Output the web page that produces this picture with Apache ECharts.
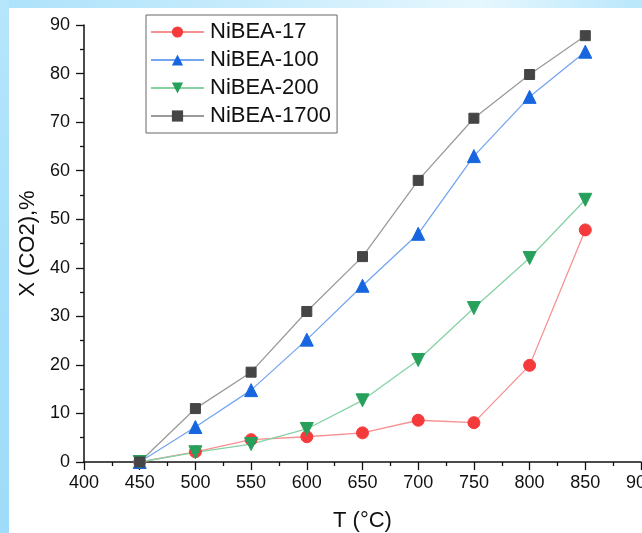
<!DOCTYPE html>
<html><head><meta charset="utf-8">
<script src="https://cdn.jsdelivr.net/npm/echarts@6/dist/echarts.min.js"></script>
<style>
html,body{margin:0;padding:0;width:642px;height:533px;overflow:hidden;}
body{background:linear-gradient(90deg,#ade2fb 0%,#c8ecfc 40%,#e6f7fe 75%,#b9e7fb 100%);position:relative;}
#side{position:absolute;left:0;top:0;width:9px;height:533px;background:linear-gradient(180deg,#b6e6fc 0%,#a6dffa 50%,#9fdcf9 100%);}
#panel{position:absolute;left:9px;top:8px;width:633px;height:525px;background:#fff;}
#chart{position:absolute;left:0;top:0;width:642px;height:533px;}
</style></head>
<body><div id="side"></div><div id="panel"></div><div id="chart"></div>
<script>
const temps = [450, 500, 550, 600, 650, 700, 750, 800, 850];
const seriesNames = ['NiBEA-17', 'NiBEA-100', 'NiBEA-200', 'NiBEA-1700'];
const nibea17 = [0, 2.1, 4.6, 5.2, 6.0, 8.6, 8.1, 19.9, 47.8];
const nibea100 = [0, 7.2, 14.8, 25.2, 36.3, 47.0, 63.0, 75.2, 84.5];
const nibea200 = [0, 2.0, 3.7, 6.8, 12.7, 21.0, 31.7, 42.0, 54.0];
const nibea1700 = [0, 11.0, 18.5, 31.0, 42.3, 58.0, 70.8, 79.8, 87.8];
const xTicks = [400, 450, 500, 550, 600, 650, 700, 750, 800, 850, 900];
const yTicks = [0, 10, 20, 30, 40, 50, 60, 70, 80, 90];

const pair = arr => temps.map((t, i) => [t, arr[i]]);
const font = 'Liberation Sans, Arial, sans-serif';
const chart = echarts.init(document.getElementById('chart'), null, {renderer: 'canvas'});
function mk(name, data, symbol, size, mcol, lcol, rot) {
  return {name, type: 'line', data: pair(data), symbol, symbolSize: size, symbolRotate: rot || 0,
    itemStyle: {color: mcol, borderColor: mcol}, lineStyle: {color: lcol, width: 1.3},
    emphasis: {disabled: true}, z: 3};
}
const tickStyle = {color: '#111', width: 1.3};
chart.setOption({
  animation: false,
  backgroundColor: 'transparent',
  grid: {left: 84, right: 1, top: 25, bottom: 71, containLabel: false, outerBoundsMode: 'none'},
  legend: {
    left: 146, top: 15, orient: 'vertical', itemGap: 6, itemWidth: 53, itemHeight: 14,
    padding: [6, 6, 6, 4], borderColor: '#666', borderWidth: 1, backgroundColor: '#fff',
    textStyle: {fontFamily: font, fontSize: 22, color: '#111', padding: [0, 0, 0, 1]},
    data: seriesNames
  },
  xAxis: {
    type: 'value', min: xTicks[0], max: xTicks[xTicks.length - 1], interval: 50,
    name: 'T (°C)', nameLocation: 'middle', nameGap: 48,
    nameTextStyle: {fontFamily: font, fontSize: 22, color: '#111'},
    axisLine: {show: true, onZero: false, lineStyle: {color: '#111', width: 1.5}},
    axisTick: {show: true, inside: false, length: 8, lineStyle: tickStyle},
    minorTick: {show: true, splitNumber: 2, length: 4, lineStyle: tickStyle},
    axisLabel: {fontFamily: font, fontSize: 18, color: '#111', margin: 12, showMaxLabel: true},
    splitLine: {show: false}
  },
  yAxis: {
    type: 'value', min: yTicks[0], max: yTicks[yTicks.length - 1], interval: 10,
    name: 'X (CO2),%', nameLocation: 'middle', nameGap: 37, nameRotate: 90,
    nameTextStyle: {fontFamily: font, fontSize: 22, color: '#111'},
    axisLine: {show: true, onZero: false, lineStyle: {color: '#111', width: 1.5}},
    axisTick: {show: true, inside: false, length: 8, lineStyle: tickStyle},
    minorTick: {show: true, splitNumber: 2, length: 4, lineStyle: tickStyle},
    axisLabel: {fontFamily: font, fontSize: 18, color: '#111', margin: 14},
    splitLine: {show: false}
  },
  series: [
    mk(seriesNames[0], nibea17, 'circle', 12, '#f43a3a', '#f79090'),
    mk(seriesNames[1], nibea100, 'triangle', 13, '#1766e0', '#74a6ef'),
    mk(seriesNames[2], nibea200, 'triangle', 13, '#27a05c', '#86d2a4', 180),
    mk(seriesNames[3], nibea1700, 'rect', 10, '#454545', '#9a9a9a')
  ]
});
</script></body></html>
